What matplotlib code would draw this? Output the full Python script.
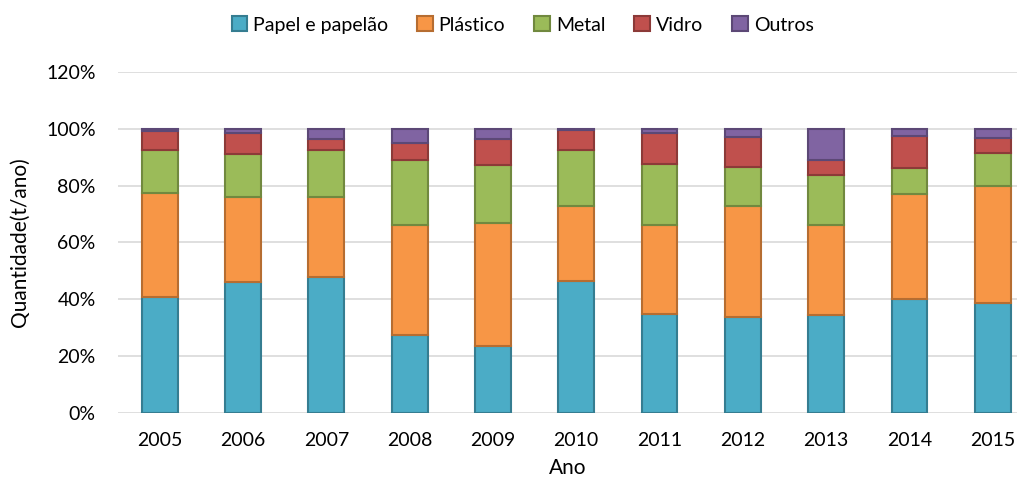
import numpy as np
import matplotlib.pyplot as plt
from matplotlib.ticker import PercentFormatter

plt.rcParams['font.family'] = ['Lato', 'DejaVu Sans']

# Shares by material (%), stacked from bottom to top
anos = ['2005', '2006', '2007', '2008', '2009', '2010', '2011', '2012', '2013', '2014', '2015']
papel = [40.7, 46.1, 48.0, 27.5, 23.5, 46.6, 34.8, 33.9, 34.4, 40.2, 38.6]
plastico = [36.9, 29.9, 28.0, 38.6, 43.3, 26.3, 31.3, 38.8, 31.7, 36.7, 41.4]
metal = [15.1, 15.3, 16.7, 23.1, 20.5, 19.8, 21.7, 13.9, 17.7, 9.2, 11.5]
vidro = [6.4, 7.1, 3.8, 5.9, 9.2, 6.8, 10.8, 10.6, 5.4, 11.5, 5.2]
outros = [0.9, 1.6, 3.5, 4.9, 3.5, 0.5, 1.4, 2.8, 10.8, 2.4, 3.3]

series = [
    ('Papel e papelão', papel, '#4BACC6', '#357D91'),
    ('Plástico', plastico, '#F79646', '#B66D31'),
    ('Metal', metal, '#9BBB59', '#71893F'),
    ('Vidro', vidro, '#C0504D', '#8C3A38'),
    ('Outros', outros, '#8064A2', '#5C4876'),
]

fig = plt.figure(figsize=(10.17, 4.84), dpi=100)
ax = fig.add_axes([0.116, 0.147, 0.884, 0.704])

x = np.arange(len(anos))
bottom = np.zeros(len(anos))
for nome, vals, cor, borda in series:
    vals = np.array(vals) / 100
    ax.bar(x, vals, 0.43, bottom=bottom, color=cor, edgecolor=borda,
           linewidth=1.5, label=nome, zorder=3)
    bottom += vals

ax.set_xlim(-0.5, 10.29)
ax.set_ylim(0, 1.2)
ax.set_yticks(np.arange(0, 1.21, 0.2))
ax.yaxis.set_major_formatter(PercentFormatter(1.0, decimals=0))
ax.set_xticks(x)
ax.set_xticklabels(anos)
ax.grid(axis='y', color='#D9D9D9', linewidth=1.2, zorder=0)
for s in ax.spines.values():
    s.set_visible(False)
ax.tick_params(axis='x', length=0, labelsize=14, colors='black', pad=14)
ax.tick_params(axis='y', length=0, labelsize=14, colors='black', pad=16)

ax.set_ylabel('Quantidade(t/ano)', fontsize=15, labelpad=12)
ax.set_xlabel('Ano', fontsize=15, labelpad=6)

ax.legend(loc='upper center', bbox_to_anchor=(0.45, 1.215), ncol=5, frameon=False,
          fontsize=14, handlelength=0.8, handleheight=0.8, handletextpad=0.3,
          columnspacing=1.5)

fig.savefig('out.png')
